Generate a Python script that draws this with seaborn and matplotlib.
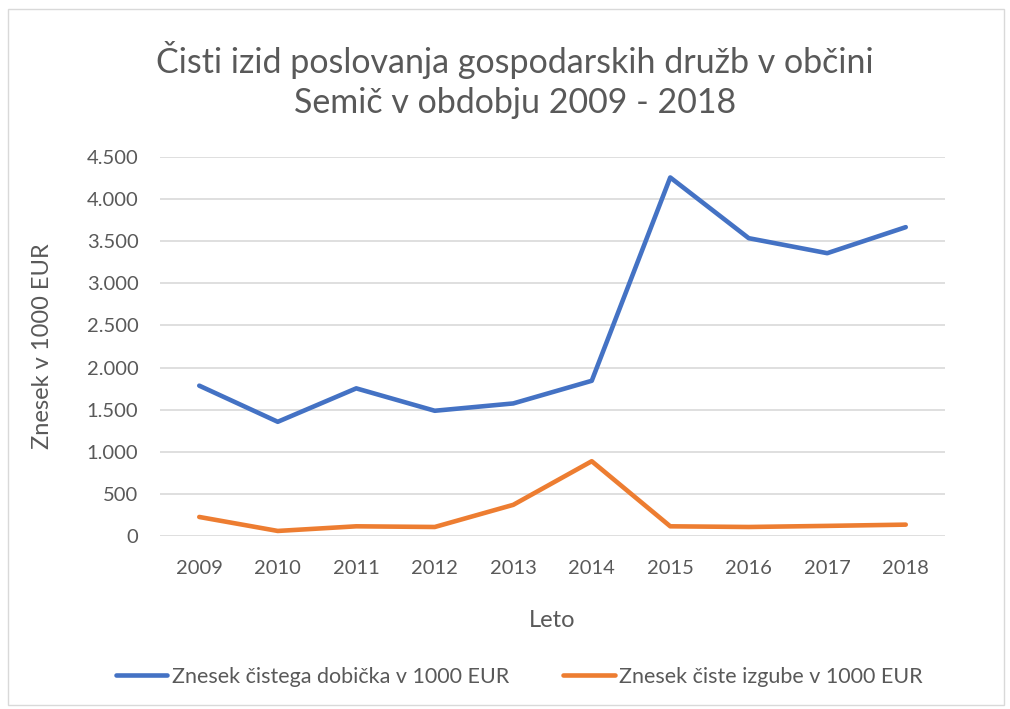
import matplotlib
matplotlib.use("Agg")
import matplotlib.pyplot as plt
import matplotlib.ticker as mticker
import pandas as pd
import seaborn as sns

leta = ["2009", "2010", "2011", "2012", "2013", "2014", "2015", "2016", "2017", "2018"]
dobicek = [1785, 1356, 1753, 1487, 1574, 1843, 4257, 3536, 3358, 3667]
izguba = [226, 60, 115, 107, 370, 888, 115, 107, 120, 135]
ime_dobicek = "Znesek čistega dobička v 1000 EUR"
ime_izguba = "Znesek čiste izgube v 1000 EUR"

sns.set_theme(style="white")
plt.rcParams['font.family'] = ['Lato', 'DejaVu Sans']
siva = "#595959"

df = pd.DataFrame({
    "Leto": leta * 2,
    "Znesek": dobicek + izguba,
    "serija": [ime_dobicek] * len(leta) + [ime_izguba] * len(leta),
})

fig = plt.figure(figsize=(10.1, 7.09), dpi=100)
ax = fig.add_axes([160 / 1010, 1 - 536 / 709, 785 / 1010, 379 / 709])

sns.lineplot(data=df, x="Leto", y="Znesek", hue="serija",
             palette=["#4472C4", "#ED7D31"], linewidth=3.3, ax=ax, sort=False)

ax.set_xlim(-0.5, len(leta) - 0.5)
ax.set_ylim(0, 4500)
ax.yaxis.set_major_locator(mticker.MultipleLocator(500))
ax.yaxis.set_major_formatter(mticker.FuncFormatter(lambda v, p: f"{int(v):,}".replace(",", ".")))
ax.grid(axis="y", color="#D9D9D9", linewidth=1.2)
ax.set_axisbelow(True)
for s in ax.spines.values():
    s.set_visible(False)
ax.tick_params(axis="both", length=0, labelsize=14.5, colors=siva)
ax.tick_params(axis="y", pad=15.5)
ax.tick_params(axis="x", pad=17)

ax.set_xlabel("Leto", fontsize=17, color=siva, labelpad=24)
ax.set_ylabel("Znesek v 1000 EUR", fontsize=17, color=siva, labelpad=24)

fig.text(0.51, 1 - 80 / 709, "Čisti izid poslovanja gospodarskih družb v občini\nSemič v obdobju 2009 - 2018",
         ha="center", va="center", fontsize=24.5, color=siva, linespacing=1.3)

handles, labels = ax.get_legend_handles_labels()
ax.get_legend().remove()
fig.legend(handles, labels, loc="center", bbox_to_anchor=(0.514, 1 - 677 / 709), ncol=2,
           frameon=False, fontsize=15.5, labelcolor=siva, handlelength=2.4,
           handletextpad=0.2, columnspacing=2.5)

fig.patches.append(plt.Rectangle((8 / 1010, 4 / 709), 996 / 1010, 696 / 709, transform=fig.transFigure,
                                 fill=False, edgecolor="#D9D9D9", linewidth=1))

fig.savefig("out.png", dpi=100)
